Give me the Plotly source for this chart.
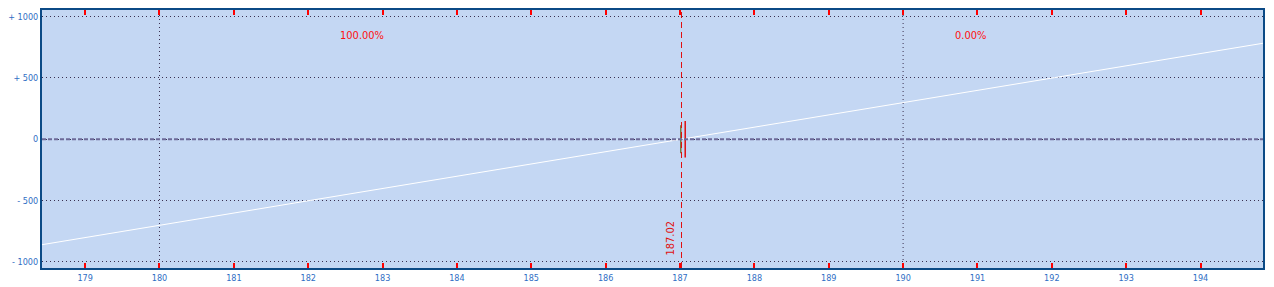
import plotly.graph_objects as go

# Data
price = [178.42, 194.84]
pnl = [-860, 782]
breakeven = 187.02
x_ticks = list(range(179, 195))
y_ticks = [-1000, -500, 0, 500, 1000]
y_labels = ["- 1000", "- 500", "0", "+ 500", "+ 1000"]
grid_x = [180, 190]
pct_labels = ["100.00%", "0.00%"]
pct_x = [182.72, 190.9]
pct_y = 845

BG = "#c4d7f3"
BORDER = "#0b4a86"
LABEL = "#2f6ec4"
GRID = "#3a3050"
FONT = "DejaVu Sans Condensed, DejaVu Sans"

fig = go.Figure()

fig.add_trace(go.Scatter(x=price, y=pnl, mode="lines",
                         line=dict(color="white", width=1), hoverinfo="skip",
                         showlegend=False))

# small markers at breakeven
fig.add_trace(go.Scatter(x=[breakeven - 0.01], y=[0], mode="markers",
                         marker=dict(symbol="line-ns", size=20,
                                     line=dict(color="#7a7a40", width=1.5)),
                         showlegend=False, hoverinfo="skip"))
fig.add_trace(go.Scatter(x=[breakeven + 0.05], y=[0], mode="markers",
                         marker=dict(symbol="line-ns", size=26,
                                     line=dict(color="#e01010", width=1.5)),
                         showlegend=False, hoverinfo="skip"))

for gx in grid_x:
    fig.add_vline(x=gx, line=dict(color=GRID, width=1, dash="1px,3px"), layer="below")

fig.add_hline(y=0, line=dict(color="#6c6a98", width=2, dash="4px,2px"), layer="above")
fig.add_vline(x=breakeven, line=dict(color="#e01010", width=1, dash="6px,4px"))

for t, px in zip(pct_labels, pct_x):
    fig.add_annotation(x=px, y=pct_y, text=t, showarrow=False,
                       font=dict(color="#ff1010", size=11, family=FONT))

fig.add_annotation(x=breakeven, y=-810, text=f"{breakeven:.2f}", textangle=-90,
                   showarrow=False, xanchor="right", yanchor="middle", xshift=-2,
                   font=dict(color="#e01010", size=11, family=FONT))

fig.update_layout(
    width=1274, height=287,
    margin=dict(l=42, r=11, t=10, b=19),
    paper_bgcolor="white", plot_bgcolor=BG,
    font=dict(family=FONT, size=9, color=LABEL),
    xaxis=dict(range=[178.42, 194.84], tickvals=x_ticks,
               ticktext=[str(v) for v in x_ticks], automargin=False,
               showgrid=False, zeroline=False,
               ticks="inside", ticklen=5, tickwidth=2, tickcolor="#ff0000",
               showline=True, linecolor=BORDER, linewidth=2, mirror="ticks",
               tickfont=dict(size=9, color=LABEL, family=FONT)),
    yaxis=dict(range=[-1050, 1053], tickvals=y_ticks, ticktext=y_labels,
               automargin=False,
               showgrid=True, gridcolor=GRID, griddash="1px,3px", gridwidth=1,
               zeroline=False, ticks="",
               showline=True, linecolor=BORDER, linewidth=2, mirror=True,
               tickfont=dict(size=9, color=LABEL, family=FONT)),
)

fig.write_html("out.html")
